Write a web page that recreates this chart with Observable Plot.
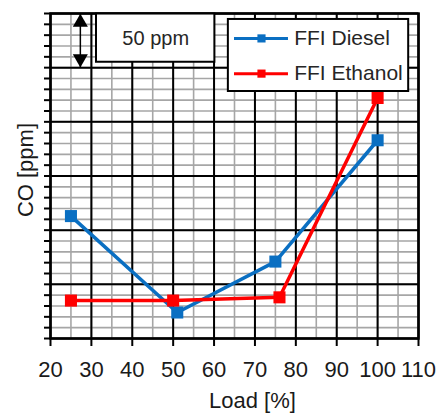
<!DOCTYPE html>
<html>
<head>
<meta charset="utf-8">
<script src="https://cdn.jsdelivr.net/npm/d3@7"></script>
<script src="https://cdn.jsdelivr.net/npm/@observablehq/plot@0.6"></script>
<style>
  html, body { margin: 0; padding: 0; background: #fff; }
  #chart { width: 443px; height: 414px; }
</style>
</head>
<body>
<div id="chart"></div>
<script>
// Data
const loadDiesel = [25, 51, 75, 100];
const coDiesel = [113, 24, 71, 183];
const loadEthanol = [25, 50, 76, 100];
const coEthanol = [35, 35, 38, 222];

const xTicks = [20, 30, 40, 50, 60, 70, 80, 90, 100, 110];
const seriesNames = ["FFI Diesel", "FFI Ethanol"];
const seriesColors = ["#0a6fc2", "#ff0000"];
const scaleNote = "50 ppm";
const xLabel = "Load [%]";
const yLabel = "CO [ppm]";

// Annotation placement in data units (legend box & scale bar)
const legendBox = {x1: 63.5, x2: 107.6, y1: 228, y2: 294.5};
const legendRows = [277, 244.5];
const legendLine = {x1: 65.0, x2: 78.2, xm: 71.6, xt: 79.6};
const noteBox = {x1: 31.25, x2: 60.2, y1: 255, y2: 299.5};
const noteArrow = {x: 27.3, y1: 250, y2: 300};

const diesel = loadDiesel.map((x, i) => ({x, y: coDiesel[i]}));
const ethanol = loadEthanol.map((x, i) => ({x, y: coEthanol[i]}));

const minorX = d3.range(20, 111, 5);
const minorY = d3.range(0, 301, 10);
const majorY = d3.range(0, 301, 50);

const font = "Liberation Sans, Arial, sans-serif";

const chart = Plot.plot({
  width: 443,
  height: 414,
  marginLeft: 50,
  marginRight: 25,
  marginTop: 13,
  marginBottom: 76,
  style: {fontFamily: font, background: "#fff", overflow: "visible"},
  x: {domain: [20, 110]},
  y: {domain: [0, 300]},
  marks: [
    Plot.gridX(minorX, {stroke: "#a6a6a6", strokeOpacity: 1, strokeWidth: 1.6}),
    Plot.gridY(minorY, {stroke: "#a6a6a6", strokeOpacity: 1, strokeWidth: 1.6}),
    Plot.gridX(xTicks, {stroke: "#000", strokeOpacity: 1, strokeWidth: 2}),
    Plot.gridY(majorY, {stroke: "#000", strokeOpacity: 1, strokeWidth: 2}),
    Plot.axisX({ticks: xTicks, tickSize: 8, tickPadding: 15, fontSize: 22, stroke: "#000", strokeWidth: 2, fill: "#1a1a1a", label: null}),
    Plot.axisY({ticks: minorY, tickSize: 6, tickFormat: () => "", stroke: "#000", strokeWidth: 2, label: null}),
    Plot.frame({stroke: "#000", strokeWidth: 2.5}),
    // scale note box & arrow
    Plot.rect([noteBox], {x1: "x1", x2: "x2", y1: "y1", y2: "y2", fill: "#fff", stroke: "#000", strokeWidth: 2}),
    Plot.text([scaleNote], {x: (noteBox.x1 + noteBox.x2) / 2, y: (noteBox.y1 + noteBox.y2) / 2, text: d => d, fontSize: 20, fill: "#262626"}),
    Plot.ruleX([noteArrow], {x: "x", y1: "y1", y2: "y2", stroke: "#000", strokeWidth: 1.5}),
    Plot.dot([noteArrow], {x: "x", y: "y2", symbol: "triangle", r: 5.6, fill: "#000", stroke: null, dy: 9}),
    Plot.dot([noteArrow], {x: "x", y: "y1", symbol: "triangle", r: 5.6, fill: "#000", stroke: null, dy: -9, rotate: 180}),
    // series
    Plot.line(diesel, {x: "x", y: "y", stroke: seriesColors[0], strokeWidth: 3.5}),
    Plot.line(ethanol, {x: "x", y: "y", stroke: seriesColors[1], strokeWidth: 3.5}),
    Plot.dot(diesel, {x: "x", y: "y", symbol: "square", r: 6.8, fill: seriesColors[0], stroke: null}),
    Plot.dot(ethanol, {x: "x", y: "y", symbol: "square", r: 6.8, fill: seriesColors[1], stroke: null}),
    // legend
    Plot.rect([legendBox], {x1: "x1", x2: "x2", y1: "y1", y2: "y2", fill: "#fff", stroke: "#000", strokeWidth: 2}),
    Plot.ruleY(seriesNames, {y: (d, i) => legendRows[i], x1: legendLine.x1, x2: legendLine.x2, stroke: (d, i) => seriesColors[i], strokeWidth: 3}),
    Plot.dot(seriesNames, {x: legendLine.xm, y: (d, i) => legendRows[i], symbol: "square", r: 4.6, fill: (d, i) => seriesColors[i], stroke: null}),
    Plot.text(seriesNames, {x: legendLine.xt, y: (d, i) => legendRows[i], text: d => d, textAnchor: "start", fontSize: 21, fill: "#262626"}),
    // axis labels
    Plot.text([xLabel], {x: 69.4, frameAnchor: "bottom", dy: 69, text: d => d, fontSize: 22, fill: "#1a1a1a"}),
    Plot.text([yLabel], {y: 155.5, frameAnchor: "left", textAnchor: "middle", lineAnchor: "middle", dx: -25, rotate: -90, text: d => d, fontSize: 22, fill: "#1a1a1a"})
  ]
});
document.getElementById("chart").appendChild(chart);
</script>
</body>
</html>
